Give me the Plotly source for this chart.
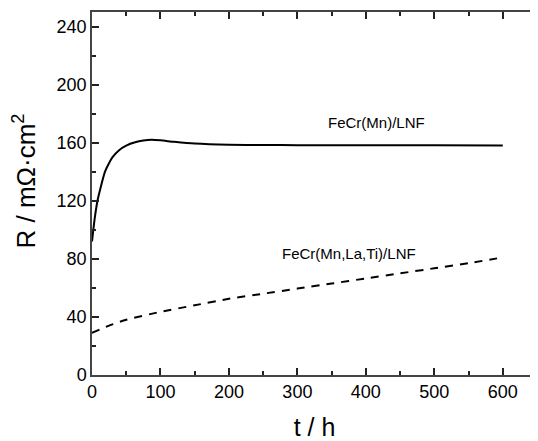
import plotly.graph_objects as go

# FeCr(Mn)/LNF (solid)
t_mn = [0, 4, 8, 12, 19, 25, 30, 40, 50, 63, 75, 87, 100, 120, 150, 200, 250, 300, 400, 500, 600]
r_mn = [92, 108, 120, 128, 140, 146, 150, 155, 158, 160.3, 161.5, 162, 161.6, 160.6, 159.4, 158.6, 158.4, 158.3, 158.2, 158.2, 158.1]

# FeCr(Mn,La,Ti)/LNF (dashed)
t_lati = [0, 25, 50, 100, 150, 200, 250, 300, 350, 400, 450, 500, 550, 600]
r_lati = [29, 34, 38, 43.5, 48, 52.5, 56, 59.5, 63, 66.5, 70, 73.5, 77, 81]

x_ticks = [0, 100, 200, 300, 400, 500, 600]
y_ticks = [0, 40, 80, 120, 160, 200, 240]

FONT = "Liberation Sans, Arial, sans-serif"

fig = go.Figure()
fig.add_trace(go.Scatter(x=t_mn, y=r_mn, mode="lines", line=dict(color="black", width=2, shape="spline", smoothing=0.6), showlegend=False))
fig.add_trace(go.Scatter(x=t_lati, y=r_lati, mode="lines", line=dict(color="black", width=2, dash="8px,7px", shape="spline", smoothing=0.6), showlegend=False))

fig.add_annotation(x=416, y=174, text="FeCr(Mn)/LNF", showarrow=False, font=dict(family=FONT, size=15, color="black"))
fig.add_annotation(x=375, y=84, text="FeCr(Mn,La,Ti)/LNF", showarrow=False, font=dict(family=FONT, size=15, color="black"))

# y-axis title
fig.add_annotation(xref="paper", yref="paper", x=0, y=0.5, xshift=-67, yshift=12,
                   xanchor="center", yanchor="middle", textangle=-90, showarrow=False,
                   text="R / mΩ·cm<sup>2</sup>", font=dict(family=FONT, size=26, color="black"))

axis_common = dict(
    showgrid=False, zeroline=False, showline=True, linecolor="#444", linewidth=1.5,
    mirror="ticks", ticks="inside", ticklen=7, tickwidth=1.5, tickcolor="#222",
    tickfont=dict(family=FONT, size=18, color="black"), automargin=False,
)

fig.update_xaxes(range=[0, 650], tickvals=x_ticks, ticktext=[str(v) for v in x_ticks],
                 minor=dict(ticks="inside", ticklen=4, tickwidth=1.5, tickcolor="#222", dtick=50, tick0=0),
                 title=dict(text="t / h", font=dict(family=FONT, size=25, color="black"), standoff=20),
                 **axis_common)
fig.update_yaxes(range=[0, 250], tickvals=y_ticks, ticktext=[str(v) for v in y_ticks],
                 minor=dict(ticks="inside", ticklen=4, tickwidth=1.5, tickcolor="#222", dtick=20, tick0=0),
                 **axis_common)

# the page adds an 8px body margin, so the figure is drawn 8px smaller
fig.update_layout(
    width=530, height=433,
    margin=dict(l=84, r=1, t=4, b=66),
    plot_bgcolor="white", paper_bgcolor="white",
    font=dict(family=FONT),
)

fig.write_html("out.html")
